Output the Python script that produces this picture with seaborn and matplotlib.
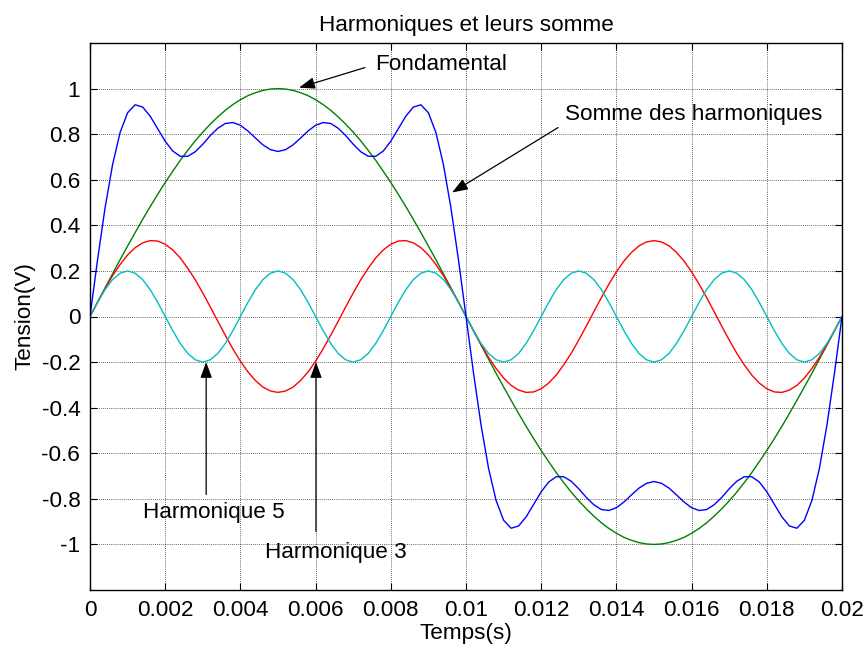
import numpy as np
import pandas as pd
import matplotlib
matplotlib.use("Agg")
import matplotlib.pyplot as plt
import seaborn as sns

# ---------------- data ----------------
# time axis: 101 samples from 0 to 0.02 s
temps = np.linspace(0.0, 0.02, 101)

fondamental = [
    0, .063, .125, .187, .249, .309, .368, .426, .482, .536, .588, .637, .685, .729, .771, .809, .844, .876, .905, .930, .951, .969, .982, .992, .998, 1.0,
    .998, .992, .982, .969, .951, .930, .905, .876, .844, .809, .771, .729, .685, .637, .588, .536, .482, .426, .368, .309, .249, .187, .125, .063, 0,
    -.063, -.125, -.187, -.249, -.309, -.368, -.426, -.482, -.536, -.588, -.637, -.685, -.729, -.771, -.809, -.844, -.876, -.905, -.930, -.951, -.969, -.982, -.992, -.998, -1.0,
    -.998, -.992, -.982, -.969, -.951, -.930, -.905, -.876, -.844, -.809, -.771, -.729, -.685, -.637, -.588, -.536, -.482, -.426, -.368, -.309, -.249, -.187, -.125, -.063, 0,
]

harmonique3 = [
    0, .062, .123, .179, .228, .270, .302, .323, .333, .331, .317, .292, .257, .212, .161, .103, .042, -.021, -.083, -.142, -.196, -.243, -.281, -.310, -.327, -.333,
    -.327, -.310, -.281, -.243, -.196, -.142, -.083, -.021, .042, .103, .161, .212, .257, .292, .317, .331, .333, .323, .302, .270, .228, .179, .123, .062, 0,
    -.062, -.123, -.179, -.228, -.270, -.302, -.323, -.333, -.331, -.317, -.292, -.257, -.212, -.161, -.103, -.042, .021, .083, .142, .196, .243, .281, .310, .327, .333,
    .327, .310, .281, .243, .196, .142, .083, .021, -.042, -.103, -.161, -.212, -.257, -.292, -.317, -.331, -.333, -.323, -.302, -.270, -.228, -.179, -.123, -.062, 0,
]

harmonique5 = [
    0, .062, .118, .162, .190, .200, .190, .162, .118, .062, 0, -.062, -.118, -.162, -.190, -.200, -.190, -.162, -.118, -.062,
    0, .062, .118, .162, .190, .200, .190, .162, .118, .062, 0, -.062, -.118, -.162, -.190, -.200, -.190, -.162, -.118, -.062,
    0, .062, .118, .162, .190, .200, .190, .162, .118, .062, 0, -.062, -.118, -.162, -.190, -.200, -.190, -.162, -.118, -.062,
    0, .062, .118, .162, .190, .200, .190, .162, .118, .062, 0, -.062, -.118, -.162, -.190, -.200, -.190, -.162, -.118, -.062,
    0, .062, .118, .162, .190, .200, .190, .162, .118, .062, 0, -.062, -.118, -.162, -.190, -.200, -.190, -.162, -.118, -.062,
    0,
]

somme = [
    0, .248, .476, .666, .807, .894, .929, .919, .879, .824, .769, .726, .703, .703, .723, .756, .794, .826, .847, .851, .839, .814, .783, .753, .732, .724,
    .732, .753, .783, .814, .839, .851, .847, .826, .794, .756, .723, .703, .703, .726, .769, .824, .879, .919, .929, .894, .807, .666, .476, .248, 0,
    -.248, -.476, -.666, -.807, -.894, -.929, -.919, -.879, -.824, -.769, -.726, -.703, -.703, -.723, -.756, -.794, -.826, -.847, -.851, -.839, -.814, -.783, -.753, -.732, -.724,
    -.732, -.753, -.783, -.814, -.839, -.851, -.847, -.826, -.794, -.756, -.723, -.703, -.703, -.726, -.769, -.824, -.879, -.919, -.929, -.894, -.807, -.666, -.476, -.248, 0,
]

x_ticks = [0, 0.002, 0.004, 0.006, 0.008, 0.01, 0.012, 0.014, 0.016, 0.018, 0.02]
x_labels = ["0", "0.002", "0.004", "0.006", "0.008", "0.01", "0.012", "0.014", "0.016", "0.018", "0.02"]
y_ticks = [-1, -0.8, -0.6, -0.4, -0.2, 0, 0.2, 0.4, 0.6, 0.8, 1]
y_labels = ["-1", "-0.8", "-0.6", "-0.4", "-0.2", "0", "0.2", "0.4", "0.6", "0.8", "1"]

# ---------------- style ----------------
sns.set_theme(style="ticks")
plt.rcParams["font.family"] = ["Liberation Sans", "DejaVu Sans"]
plt.rcParams["axes.unicode_minus"] = False
plt.rcParams["text.color"] = "black"
plt.rcParams["axes.labelcolor"] = "black"
FS = 16.2

fig = plt.figure(figsize=(8.66, 6.51), dpi=100)
ax = fig.add_axes([90 / 866, 1 - 590 / 651, (842 - 90) / 866, (590 - 43) / 651])

df = pd.DataFrame({"t": temps, "f": fondamental, "h3": harmonique3,
                   "h5": harmonique5, "s": somme})

for col, color in [("f", "#008000"), ("h3", "#ff0000"), ("h5", "#00bfbf"), ("s", "#0000ff")]:
    sns.lineplot(data=df, x="t", y=col, color=color, lw=1.0, ax=ax, sort=False)

ax.set_xlim(0, 0.02)
ax.set_ylim(-1.2, 1.2)
ax.set_xticks(x_ticks)
ax.set_xticklabels(x_labels)
ax.set_yticks(y_ticks)
ax.set_yticklabels(y_labels)
ax.tick_params(direction="in", length=5, width=0.8, top=True, right=True,
               labelsize=FS, pad=7, colors="black")
for sp in ax.spines.values():
    sp.set_visible(True)
    sp.set_color("black")
    sp.set_linewidth(1.0)
ax.grid(True, color="black", linestyle=(0, (1, 1.5)), linewidth=0.6, alpha=0.8)
ax.set_axisbelow(True)

ax.set_title("Harmoniques et leurs somme", fontsize=FS, pad=9, color="black")
ax.set_xlabel("Temps(s)", fontsize=FS, labelpad=2)
ax.set_ylabel("Tension(V)", fontsize=FS, labelpad=4)

arrow = dict(arrowstyle="-|>,head_length=0.6,head_width=0.22", color="black",
             lw=0.9, shrinkA=0, shrinkB=0, mutation_scale=16)

ax.annotate("", xy=(0.00556, 1.004), xytext=(0.00731, 1.092), arrowprops=arrow)
ax.text(0.00758, 1.105, "Fondamental", fontsize=FS, va="center", ha="left")

ax.annotate("", xy=(0.00963, 0.544), xytext=(0.01245, 0.829), arrowprops=arrow)
ax.text(0.01263, 0.886, "Somme des harmoniques", fontsize=FS, va="center", ha="left")

ax.annotate("", xy=(0.00309, -0.2), xytext=(0.00309, -0.781), arrowprops=arrow)
ax.text(0.00141, -0.86, "Harmonique 5", fontsize=FS, va="center", ha="left")

ax.annotate("", xy=(0.00601, -0.2), xytext=(0.00601, -0.943), arrowprops=arrow)
ax.text(0.00465, -1.035, "Harmonique 3", fontsize=FS, va="center", ha="left")

fig.savefig("out.png", dpi=100)
